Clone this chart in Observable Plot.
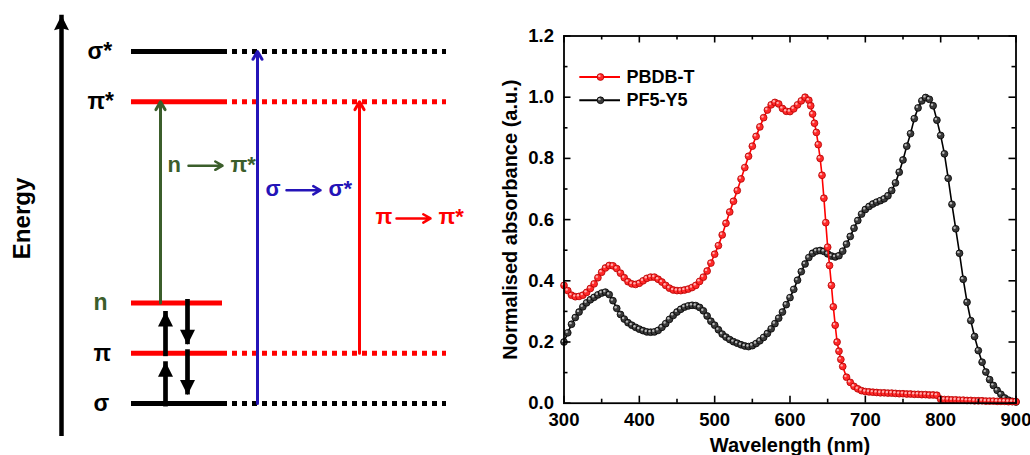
<!DOCTYPE html>
<html><head><meta charset="utf-8">
<script src="https://cdn.jsdelivr.net/npm/d3@7"></script>
<script src="https://cdn.jsdelivr.net/npm/@observablehq/plot@0.6"></script>
<style>
html,body{margin:0;padding:0;background:#fff;}
#wrap{position:relative;width:1030px;height:455px;overflow:hidden;background:#fff;}
#left{position:absolute;left:0;top:0;}
#right{position:absolute;left:490px;top:0;}
svg text{font-weight:bold;}
</style></head><body>
<div id="wrap"><div id="left"></div><div id="right"></div></div>
<script>
// ---------- Data: energy-level diagram ----------
const levelNames = ["σ", "π", "n", "π*", "σ*"];
const levelEnergies = [0, 1, 2, 6, 7];
const transitionFrom = ["n", "σ", "π"];
const transitionTo = ["π*", "σ*", "π*"];

// ---------- Data: absorbance spectra ----------
const seriesNames = ["PBDB-T", "PF5-Y5"];
const wavelengthPBDB = [300,305,310,315,320,325,330,335,340,345,350,355,360,365,370,375,380,385,390,395,400,405,410,415,420,425,430,435,440,445,450,455,460,465,470,475,480,485,490,495,500,505,510,515,520,525,530,535,540,545,550,555,560,565,570,575,580,585,590,595,600,605,610,615,620,625,627.5,630,632.5,635,637.5,640,642.5,645,647.5,650,652.5,655,657.5,660,662.5,665,667.5,670,675,680,685,690,695,700,705,710,715,720,725,730,735,740,745,750,755,760,765,770,775,780,785,790,795,800,805,810,815,820,825,830,835,840,845,850,855,860,865,870,875,880,885,890,895,900];
const absPBDB = [0.385,0.368,0.353,0.348,0.349,0.353,0.362,0.375,0.39,0.41,0.428,0.442,0.45,0.449,0.44,0.425,0.41,0.397,0.39,0.388,0.392,0.4,0.408,0.412,0.412,0.405,0.396,0.385,0.376,0.37,0.368,0.368,0.37,0.373,0.378,0.385,0.398,0.412,0.432,0.458,0.487,0.515,0.55,0.588,0.625,0.66,0.695,0.733,0.77,0.807,0.84,0.872,0.903,0.933,0.958,0.975,0.983,0.978,0.963,0.954,0.953,0.962,0.975,0.988,1.0,0.99,0.972,0.945,0.915,0.885,0.845,0.80,0.745,0.67,0.59,0.51,0.45,0.385,0.315,0.255,0.2,0.17,0.143,0.12,0.085,0.068,0.055,0.047,0.041,0.038,0.037,0.036,0.035,0.034,0.034,0.033,0.033,0.032,0.031,0.031,0.030,0.030,0.029,0.029,0.028,0.028,0.027,0.027,0.026,0.013,0.012,0.012,0.011,0.011,0.010,0.010,0.009,0.009,0.008,0.008,0.008,0.007,0.007,0.007,0.006,0.006,0.006,0.005,0.005,0.005];
const wavelengthPF5 = [300,305,310,315,320,325,330,335,340,345,350,355,360,365,370,375,380,385,390,395,400,405,410,415,420,425,430,435,440,445,450,455,460,465,470,475,480,485,490,495,500,505,510,515,520,525,530,535,540,545,550,555,560,565,570,575,580,585,590,595,600,605,610,615,620,625,630,635,640,645,650,655,660,665,670,675,680,685,690,695,700,705,710,715,720,725,730,735,740,745,750,755,760,765,770,775,780,785,790,795,800,805,810,815,820,825,830,835,840,845,850,855,860,865,870,875,880,885,890,895,900];
const absPF5 = [0.2,0.23,0.258,0.28,0.298,0.315,0.328,0.338,0.346,0.354,0.36,0.363,0.355,0.335,0.31,0.29,0.275,0.263,0.255,0.248,0.242,0.237,0.233,0.232,0.233,0.238,0.248,0.26,0.274,0.287,0.298,0.307,0.314,0.318,0.32,0.319,0.313,0.302,0.285,0.268,0.255,0.24,0.226,0.216,0.208,0.201,0.196,0.191,0.187,0.185,0.188,0.195,0.204,0.215,0.228,0.243,0.26,0.278,0.298,0.322,0.345,0.372,0.402,0.43,0.455,0.476,0.49,0.497,0.499,0.496,0.488,0.481,0.478,0.482,0.497,0.52,0.545,0.572,0.597,0.618,0.633,0.643,0.651,0.657,0.662,0.668,0.678,0.695,0.72,0.755,0.795,0.84,0.881,0.93,0.965,0.988,0.999,0.993,0.972,0.925,0.875,0.815,0.735,0.65,0.57,0.49,0.405,0.33,0.27,0.218,0.172,0.134,0.102,0.077,0.058,0.042,0.029,0.017,0.010,0.006,0.004];
const xTickValues = [300, 400, 500, 600, 700, 800, 900];
const xMinorTicks = [350, 450, 550, 650, 750, 850];
const yTickValues = [0, 0.2, 0.4, 0.6, 0.8, 1.0, 1.2];
const yMinorTicks = [0.1, 0.3, 0.5, 0.7, 0.9, 1.1];

// ---------- Styling / layout ----------
const FONT = '"Liberation Sans", Arial, Helvetica, sans-serif';
const RED = "#ff0000", GREEN = "#3b5e2b", BLUE = "#2414b8", BLACK = "#000000";
const levels = levelNames.map((name, i) => ({name, energy: levelEnergies[i]}));
const energyOf = Object.fromEntries(levels.map(d => [d.name, d.energy]));
const levelStroke = {"σ": BLACK, "σ*": BLACK, "π": RED, "π*": RED, "n": RED};
const levelLabelColor = {"σ": BLACK, "σ*": BLACK, "π": BLACK, "π*": BLACK, "n": GREEN};
const transColors = [GREEN, BLUE, RED];
const transX = [160, 257, 359];
const transLabelX = [167, 265, 375];
const transLabelE = [4.75, 4.26, 3.70];
const transitions = transitionFrom.map((f, i) => ({
  from: f, to: transitionTo[i], e1: energyOf[f], e2: energyOf[transitionTo[i]],
  x: transX[i], lx: transLabelX[i], le: transLabelE[i], color: transColors[i]
}));
// diagram geometry: y scale maps energy 0..7 onto 403..51 px
const Y0 = 403, Y7 = 51, PX = 7 / (Y0 - Y7); // energy units per pixel
// paired-electron arrows between (σ,π) and (π,n)
const spinPairs = [[0, 1], [1, 2]].map(([a, b]) => ({lo: levelEnergies[a], hi: levelEnergies[b]}));
const spinArrows = spinPairs.flatMap(p => {
  const mid = (p.lo + p.hi) / 2, half = 0.33 * (p.hi - p.lo);
  return [
    {x: 165, base: mid - half, tip: mid + half, dir: 1, w: 7.5, h: 15, notch: 0},
    {x: 187, base: mid + half, tip: mid - half, dir: -1, w: 7.5, h: 15, notch: 0}
  ];
});
// the Energy axis arrow (runs past the lowest and highest levels)
const energyAxis = [{x: 61, base: -0.42, tip: 7.72, dir: 1, w: 7.5, h: 15, notch: 2}];
const headPoints = [...spinArrows, ...energyAxis].flatMap((a, id) => [
  {id, x: a.x, y: a.tip},
  {id, x: a.x + a.w, y: a.tip - a.dir * a.h * PX},
  {id, x: a.x, y: a.tip - a.dir * (a.h - a.notch) * PX},
  {id, x: a.x - a.w, y: a.tip - a.dir * a.h * PX}
]);

const left = Plot.plot({
  width: 490, height: 455, margin: 0,
  x: {type: "linear", domain: [0, 490], range: [0, 490], axis: null},
  y: {type: "linear", domain: [0, 7], range: [Y0, Y7], axis: null},
  color: {type: "identity"},
  style: {fontFamily: FONT, background: "transparent", overflow: "visible"},
  marks: [
    Plot.ruleX(energyAxis, {x: "x", y1: "base", y2: "tip", stroke: BLACK, strokeWidth: 4.5, insetTop: 12}),
    Plot.text(["Energy"], {x: 22, y: 3.68, text: d => d, rotate: -90, fontSize: 24, fill: BLACK}),
    Plot.ruleY(levels, {y: "energy", x1: 131, x2: d => d.name === "n" ? 222 : 227, stroke: d => levelStroke[d.name], strokeWidth: 5}),
    Plot.ruleY(levels.filter(d => d.name !== "n"), {y: "energy", x1: 232, x2: 446, stroke: d => levelStroke[d.name], strokeWidth: 5, strokeDasharray: "5,5"}),
    Plot.text(levels, {x: d => d.name.includes("*") ? 87 : 93, y: "energy", text: "name", textAnchor: "start", fontSize: 23, fill: d => levelLabelColor[d.name]}),
    Plot.arrow(transitions, {x1: "x", x2: "x", y1: "e1", y2: "e2", stroke: "color", strokeWidth: 3, headLength: 4.5, headAngle: 60}),
    Plot.text(transitions, {x: "lx", y: "le", text: "from", textAnchor: "start", fontSize: 22, fill: "color"}),
    Plot.arrow(transitions, {x1: d => d.lx + 21, x2: d => d.lx + 55, y1: "le", y2: "le", dy: 1, stroke: "color", strokeWidth: 2.5, headLength: 5, headAngle: 60}),
    Plot.text(transitions, {x: d => d.lx + 63, y: "le", text: "to", textAnchor: "start", fontSize: 22, fill: "color"}),
    Plot.ruleX(spinArrows.filter(d => d.dir > 0), {x: "x", y1: "base", y2: "tip", stroke: BLACK, strokeWidth: 4.7, insetTop: 12}),
    Plot.ruleX(spinArrows.filter(d => d.dir < 0), {x: "x", y1: "tip", y2: "base", stroke: BLACK, strokeWidth: 4.7, insetBottom: 12}),
    Plot.line(headPoints, {x: "x", y: "y", z: "id", fill: BLACK, stroke: "none", curve: "linear-closed"})
  ]
});
document.getElementById("left").append(left);

// ---------- Spectra ----------
const pbdb = wavelengthPBDB.map((w, i) => ({w, a: absPBDB[i]}));
const pf5 = wavelengthPF5.map((w, i) => ({w, a: absPF5[i]}));
const W = 540, H = 455, ML = 73.5, MR = 14.5, MT = 35.5, MB = 52.3;
const innerW = W - ML - MR, innerH = H - MT - MB;
const legend = [
  {name: seriesNames[0], y: 1.066, color: RED, fill: "#ff2a2a", stroke: "#b40000", hi: "#ffb0b0"},
  {name: seriesNames[1], y: 0.99, color: BLACK, fill: "#3a3a3a", stroke: "#000", hi: "#bbbbbb"}
];
function seriesMarks(data, color, fill, stroke, hi) {
  return [
    Plot.line(data, {x: "w", y: "a", stroke: color, strokeWidth: 1.6}),
    Plot.dot(data, {x: "w", y: "a", r: 3.4, fill, stroke, strokeWidth: 0.8}),
    Plot.dot(data, {x: "w", y: "a", r: 1.2, fill: hi, stroke: "none", dx: -1.1, dy: -1.1})
  ];
}
const right = Plot.plot({
  width: W, height: H, marginLeft: ML, marginRight: MR, marginTop: MT, marginBottom: MB,
  x: {domain: [300, 900]},
  y: {domain: [0, 1.2]},
  color: {type: "identity"},
  style: {fontFamily: FONT, background: "transparent", overflow: "visible"},
  marks: [
    ...seriesMarks(pf5, BLACK, "#3a3a3a", "#000", "#bbbbbb"),
    ...seriesMarks(pbdb, RED, "#ff2a2a", "#b40000", "#ffb0b0"),
    Plot.frame({stroke: BLACK, strokeWidth: 1.8}),
    Plot.ruleX(xTickValues, {stroke: BLACK, strokeWidth: 1.6, insetTop: innerH - 7}),
    Plot.ruleX(xTickValues, {stroke: BLACK, strokeWidth: 1.6, insetBottom: innerH - 7}),
    Plot.ruleX(xMinorTicks, {stroke: BLACK, strokeWidth: 1.6, insetTop: innerH - 4}),
    Plot.ruleX(xMinorTicks, {stroke: BLACK, strokeWidth: 1.6, insetBottom: innerH - 4}),
    Plot.ruleY(yTickValues, {stroke: BLACK, strokeWidth: 1.6, insetRight: innerW - 7}),
    Plot.ruleY(yTickValues, {stroke: BLACK, strokeWidth: 1.6, insetLeft: innerW - 7}),
    Plot.ruleY(yMinorTicks, {stroke: BLACK, strokeWidth: 1.6, insetRight: innerW - 4}),
    Plot.ruleY(yMinorTicks, {stroke: BLACK, strokeWidth: 1.6, insetLeft: innerW - 4}),
    Plot.axisX(xTickValues, {tickSize: 0, tickPadding: 10, fontSize: 18.5, label: null, tickFormat: d3.format("d")}),
    Plot.axisY(yTickValues, {tickSize: 0, tickPadding: 10, fontSize: 18.5, label: null, tickFormat: d3.format(".1f")}),
    Plot.text(["Wavelength (nm)"], {frameAnchor: "bottom", lineAnchor: "middle", dy: 42, text: d => d, fontSize: 20, fill: BLACK}),
    Plot.text(["Normalised absorbance (a.u.)"], {frameAnchor: "left", textAnchor: "middle", lineAnchor: "middle", dx: -53, rotate: -90, text: d => d, fontSize: 20, fill: BLACK}),
    Plot.ruleY(legend, {y: "y", x1: 321, x2: 375, stroke: "color", strokeWidth: 1.8}),
    Plot.dot(legend, {x: 348.4, y: "y", r: 3.4, fill: "fill", stroke: "stroke", strokeWidth: 0.8}),
    Plot.dot(legend, {x: 348.4, y: "y", r: 1.2, fill: "hi", stroke: "none", dx: -1.1, dy: -1.1}),
    Plot.text(legend, {x: 383, y: "y", text: "name", textAnchor: "start", fontSize: 18, fill: BLACK})
  ]
});
document.getElementById("right").append(right);
</script>
</body></html>
